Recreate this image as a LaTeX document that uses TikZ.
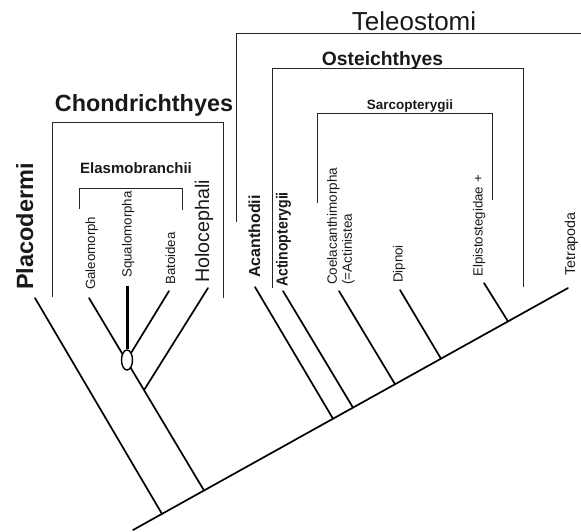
\documentclass[tikz,border=0pt]{standalone}
\usepackage{fontspec}
\usepackage{graphicx}
\usetikzlibrary{shapes.geometric}
\setmainfont{Liberation Sans}
\begin{document}
\begin{tikzpicture}[x=1pt,y=-1pt,
  tree/.style={line width=1.7pt,line cap=round},
  brk/.style={line width=0.9pt,draw=black!85},
  vlbl/.style={rotate=90,anchor=base west,inner sep=0pt,text=black!90},
  hlbl/.style={anchor=base,inner sep=0pt,text=black!90},
  small/.style={font=\fontsize{13.3}{15}\selectfont},
  mid/.style={font=\fontsize{16}{18}\selectfont\bfseries}]
\useasboundingbox (0,0) rectangle (581,531);
% tree coordinates
\coordinate (root) at (133,530);
\coordinate (tetra) at (568,288);
\coordinate (jPla) at (162,513.9);
\coordinate (jCho) at (204,490.5);
\coordinate (jAca) at (333,418.7);
\coordinate (jAct) at (353,407.6);
\coordinate (jCoe) at (395,384.2);
\coordinate (jDip) at (441,358.7);
\coordinate (jElp) at (508,321.4);
\coordinate (tPla) at (35,298);
\coordinate (tGal) at (89,298);
\coordinate (jHol) at (144.1,390);
\coordinate (tHol) at (208,288);
\coordinate (tSqu) at (127,286);
\coordinate (tBat) at (169,291);
\coordinate (tAca) at (255,287);
\coordinate (tAct) at (283,291);
\coordinate (tCoe) at (339,291);
\coordinate (tDip) at (400,290);
\coordinate (tElp) at (484,283);
% tree lines
\draw[tree] (root) -- (tetra);
\draw[tree] (jPla) -- (tPla);
\draw[tree] (jCho) -- (tGal);
\draw[tree] (jHol) -- (tHol);
\draw[tree] (jAca) -- (tAca);
\draw[tree] (jAct) -- (tAct);
\draw[tree] (jCoe) -- (tCoe);
\draw[tree] (jDip) -- (tDip);
\draw[tree] (jElp) -- (tElp);
\node[draw,line width=1.4pt,fill=white,ellipse,minimum width=11pt,minimum height=20pt,inner sep=0pt] (oval) at (127,360) {};
\draw[line width=3pt] (oval.north) -- (tSqu);
\draw[tree] (oval.north east) -- (tBat);
% brackets
\coordinate (telA) at (236,222); \coordinate (telB) at (236,33); \coordinate (telC) at (581,33);
\draw[brk] (telA) -- (telB) -- (telC);
\coordinate (ostA) at (272,288); \coordinate (ostB) at (272,68); \coordinate (ostC) at (523,68); \coordinate (ostD) at (523,287);
\draw[brk] (ostA) -- (ostB) -- (ostC) -- (ostD);
\coordinate (sarA) at (317,203); \coordinate (sarB) at (317,113); \coordinate (sarC) at (492,113); \coordinate (sarD) at (492,200);
\draw[brk] (sarA) -- (sarB) -- (sarC) -- (sarD);
\coordinate (choA) at (52,297); \coordinate (choB) at (52,122); \coordinate (choC) at (223,122); \coordinate (choD) at (223,298);
\draw[brk] (choA) -- (choB) -- (choC) -- (choD);
\coordinate (elaA) at (79,209); \coordinate (elaB) at (79,188); \coordinate (elaC) at (182,188); \coordinate (elaD) at (182,210);
\draw[brk] (elaA) -- (elaB) -- (elaC) -- (elaD);
% group titles
\node[hlbl,font=\fontsize{26}{28}\selectfont] (Tel) at (414,30) {Teleostomi};
\node[hlbl,font=\fontsize{19.3}{21}\selectfont\bfseries] (Ost) at (382.5,65) {Osteichthyes};
\node[hlbl,font=\fontsize{13.5}{15}\selectfont\bfseries] (Sar) at (410,109.7) {Sarcopterygii};
\node[hlbl,font=\fontsize{23.4}{25}\selectfont\bfseries] (Cho) at (144,111) {Chondrichthyes};
\node[hlbl,font=\fontsize{15}{17}\selectfont\bfseries] (Ela) at (136,173) {Elasmobranchii};
% tip labels
\node[vlbl,font=\fontsize{23.5}{25}\selectfont\bfseries] (Pla) at (33,290) {Placodermi};
\node[vlbl,small] (Gal) at (95,290) {Galeomorph};
\node[vlbl,small] (Squ) at (131.5,278) {Squalomorpha};
\node[vlbl,small] (Bat) at (175,285) {Batoidea};
\node[vlbl,font=\fontsize{19.7}{21}\selectfont] (Hol) at (209,283) {Holocephali};
\node[vlbl,mid] (Aca) at (260,278) {Acanthodii};
\node[vlbl,mid] (Act) at (287.5,287) {\scalebox{0.88}[1]{Actinopterygii}};
\node[rotate=90,anchor=north west,inner sep=0pt,align=left,text=black!90,font=\fontsize{13.5}{15}\selectfont] (Coe) at (327,285) {Coelacanthimorpha\\(=Actinistea};
\node[vlbl,small] (Dip) at (402.5,283) {Dipnoi};
\node[vlbl,small] (Elp) at (482.5,277) {Elpistostegidae +};
\node[vlbl,font=\fontsize{14.3}{16}\selectfont] (Tet) at (575,276) {Tetrapoda};
\end{tikzpicture}
\end{document}
